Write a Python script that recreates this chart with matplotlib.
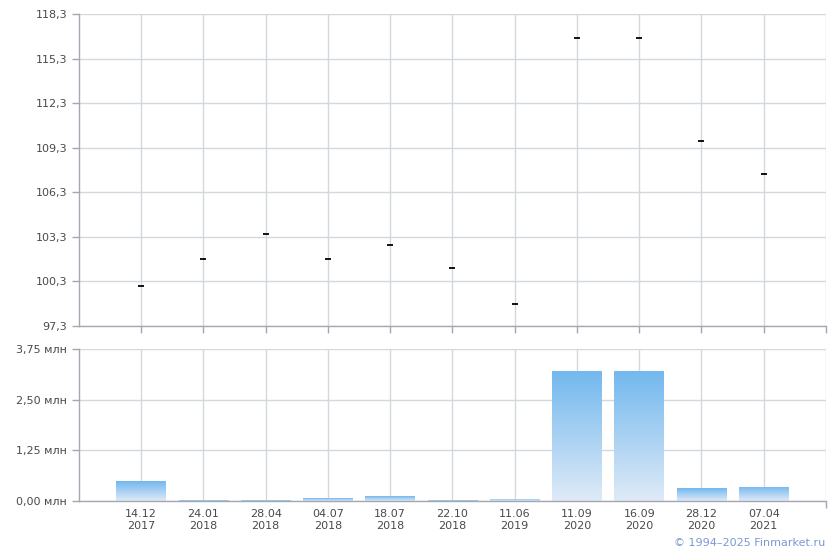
import numpy as np
import matplotlib
matplotlib.use("Agg")
import matplotlib.pyplot as plt
from matplotlib.colors import LinearSegmentedColormap

dates = ["14.12\n2017", "24.01\n2018", "28.04\n2018", "04.07\n2018", "18.07\n2018",
         "22.10\n2018", "11.06\n2019", "11.09\n2020", "16.09\n2020", "28.12\n2020",
         "07.04\n2021"]
prices = [100.0, 101.8, 103.5, 101.8, 102.75, 101.2, 98.8, 116.7, 116.7, 109.75, 107.5]
volumes = [0.49, 0.02, 0.02, 0.07, 0.12, 0.02, 0.05, 3.21, 3.21, 0.32, 0.35]  # млн

price_ticks = [97.3, 100.3, 103.3, 106.3, 109.3, 112.3, 115.3, 118.3]
vol_ticks = [0.0, 1.25, 2.50, 3.75]

grid_c = "#d3d8dc"
spine_c = "#a4a8b2"
text_c = "#4a4a4a"

plt.rcParams["font.family"] = "DejaVu Sans"
plt.rcParams["font.size"] = 8

fig = plt.figure(figsize=(8.4, 5.5), dpi=100)
ax1 = fig.add_axes([0.094, 0.4073, 0.8893, 0.5673])
ax2 = fig.add_axes([0.094, 0.0891, 0.8893, 0.2764])

x = np.arange(len(dates))

def style_axes(ax):
    for s in ["top", "right"]:
        ax.spines[s].set_visible(False)
    for s in ["left", "bottom"]:
        ax.spines[s].set_color(spine_c)
        ax.spines[s].set_linewidth(1)
    ax.set_xlim(-1, len(dates))
    ax.grid(True, color=grid_c, linewidth=1)
    ax.set_axisbelow(True)
    ax.tick_params(colors=spine_c, labelcolor=text_c, length=5, width=1)

# price panel
style_axes(ax1)
ax1.set_xticks(list(x) + [len(dates)])
ax1.plot(x, prices, linestyle="none", marker="_", markersize=5, mew=1.3, color="black")
ax1.set_ylim(97.3, 118.3)
ax1.set_yticks(price_ticks)
ax1.set_yticklabels([f"{v:.1f}".replace(".", ",") for v in price_ticks])
ax1.set_xticklabels([])

# volume panel
style_axes(ax2)
bars = ax2.bar(x, volumes, width=0.8, color="none", zorder=2)
cmap = LinearSegmentedColormap.from_list("g", ["#dfeaf7", "#72b8ee"])
grad = np.linspace(0, 1, 256).reshape(-1, 1)
for b in bars:
    x0, y0 = b.get_x(), b.get_y()
    w, h = b.get_width(), b.get_height()
    im = ax2.imshow(grad, extent=(x0, x0 + w, y0, y0 + h), origin="lower",
                    cmap=cmap, aspect="auto", zorder=2)
    im.set_clip_path(b)
ax2.set_xlim(-1, len(dates))
ax2.set_ylim(0, 3.75)
ax2.set_yticks(vol_ticks)
ax2.set_yticklabels([f"{v:.2f} млн".replace(".", ",") for v in vol_ticks])
ax2.set_xticks(x)
ax2.set_xticklabels(dates, color=text_c)
ax2.set_xticks([len(dates)], minor=True)
ax2.tick_params(axis="x", which="major", length=0, pad=6)
ax2.tick_params(axis="x", which="minor", length=5, width=1, color=spine_c)
ax2.grid(True, which="minor", axis="x", color=grid_c, linewidth=1)

fig.text(0.983, 0.004, "© 1994–2025 Finmarket.ru", ha="right", va="bottom",
         color="#7b97d6", fontsize=8)

fig.savefig("out.png", dpi=100)
